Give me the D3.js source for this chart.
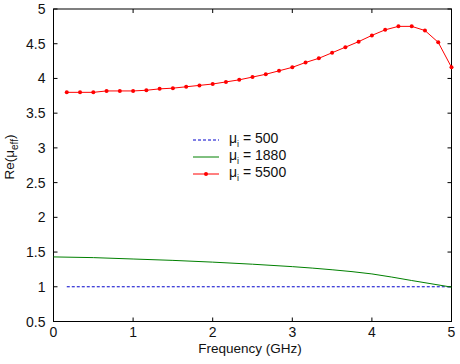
<!DOCTYPE html>
<html><head><meta charset="utf-8">
<script src="https://cdn.jsdelivr.net/npm/d3@7"></script>
<style>body{margin:0;background:#fff}text{font-family:"Liberation Sans",Arial,sans-serif;fill:#111}</style>
</head><body><svg id="c" width="460" height="364"></svg>
<script>
const xTicks=[0,1,2,3,4,5];
const yTicks=[0.5,1,1.5,2,2.5,3,3.5,4,4.5,5];
const redF=d3.range(1,31).map(k=>k/6);
const redV=[3.80,3.80,3.80,3.82,3.82,3.82,3.83,3.85,3.86,3.88,3.90,3.92,3.95,3.98,4.02,4.06,4.11,4.16,4.23,4.29,4.37,4.45,4.53,4.62,4.70,4.75,4.75,4.69,4.52,4.16];
const greenF=[0,0.5,1,1.5,2,2.5,3,3.5,4,4.5,5];
const greenV=[1.43,1.42,1.40,1.38,1.355,1.325,1.29,1.245,1.185,1.09,0.995];
const blueF=[1/6,5];
const blueV=[1,1];
const legendLabels=["500","1880","5500"];

const svg=d3.select("#c");
const L=53.5,R=451.5,T=9,B=321.5;
const x=d3.scaleLinear().domain([0,5]).range([L,R]);
const y=d3.scaleLinear().domain([0.5,5]).range([B,T]);
const g=svg.append("g");
g.append("rect").attr("x",L).attr("y",T).attr("width",R-L).attr("height",B-T).attr("fill","none").attr("stroke","#000").attr("stroke-width",1);
const tl=4;
xTicks.forEach(t=>{
  g.append("line").attr("x1",x(t)).attr("x2",x(t)).attr("y1",B).attr("y2",B-tl).attr("stroke","#000");
  g.append("line").attr("x1",x(t)).attr("x2",x(t)).attr("y1",T).attr("y2",T+tl).attr("stroke","#000");
  g.append("text").attr("x",x(t)).attr("y",B+15.5).attr("text-anchor","middle").attr("font-size",14).text(t);
});
yTicks.forEach(t=>{
  g.append("line").attr("x1",L).attr("x2",L+tl).attr("y1",y(t)).attr("y2",y(t)).attr("stroke","#000");
  g.append("line").attr("x1",R).attr("x2",R-tl).attr("y1",y(t)).attr("y2",y(t)).attr("stroke","#000");
  g.append("text").attr("x",L-8).attr("y",y(t)+5).attr("text-anchor","end").attr("font-size",14).text(t);
});
g.append("text").attr("x",250).attr("y",353).attr("text-anchor","middle").attr("font-size",13.5).text("Frequency (GHz)");
const yl=g.append("text").attr("transform","translate(14,157) rotate(-90)").attr("text-anchor","middle").attr("font-size",13.5);
yl.append("tspan").text("Re(μ");
yl.append("tspan").attr("font-size",10).attr("dy",4).text("eff");
yl.append("tspan").attr("dy",-4).text(")");

const line=d3.line().x(d=>x(d[0])).y(d=>y(d[1]));
g.append("path").datum(d3.zip(blueF,blueV)).attr("d",line).attr("fill","none").attr("stroke","#0000cc").attr("stroke-width",1).attr("stroke-dasharray","3,2");
g.append("path").datum(d3.zip(greenF,greenV)).attr("d",d3.line().curve(d3.curveMonotoneX).x(d=>x(d[0])).y(d=>y(d[1]))).attr("fill","none").attr("stroke","#008000").attr("stroke-width",1);
const red=d3.zip(redF,redV);
g.append("path").datum(red).attr("d",line).attr("fill","none").attr("stroke","#ff0000").attr("stroke-width",1);
g.selectAll("circle.r").data(red).enter().append("circle").attr("cx",d=>x(d[0])).attr("cy",d=>y(d[1])).attr("r",2).attr("fill","#ff0000");

const lg=g.append("g");
const ly=[140,157,174];
const colors=["#0000cc","#008000","#ff0000"];
legendLabels.forEach((lab,i)=>{
  const ln=lg.append("line").attr("x1",193).attr("x2",219).attr("y1",ly[i]).attr("y2",ly[i]).attr("stroke",colors[i]);
  if(i===0) ln.attr("stroke-dasharray","3,2");
  if(i===2) lg.append("circle").attr("cx",206).attr("cy",ly[i]).attr("r",2).attr("fill","#ff0000");
  const t=lg.append("text").attr("x",229).attr("y",ly[i]+3).attr("font-size",14);
  t.append("tspan").text("μ");
  t.append("tspan").attr("font-size",9).attr("dy",4).text("i");
  t.append("tspan").attr("dy",-4).text(" = "+lab);
});
</script></body></html>
